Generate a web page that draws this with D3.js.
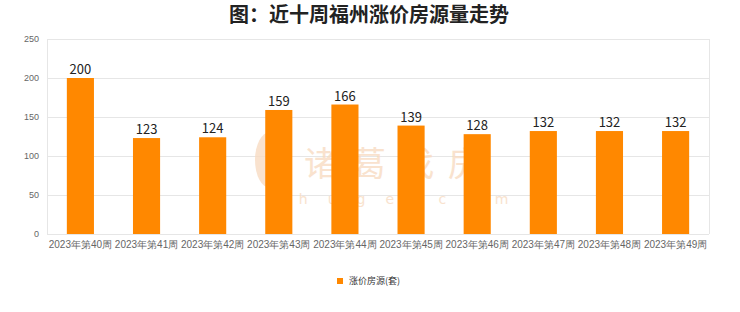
<!DOCTYPE html>
<html>
<head>
<meta charset="utf-8">
<script src="https://cdn.jsdelivr.net/npm/d3@7"></script>
<style>
	body { margin: 0; background: #fff; }
	svg { display: block; font-family: "Noto Sans CJK SC", "DejaVu Sans", sans-serif; }
	.grid line { stroke: #e6e6e6; }
	.axis text { fill: #666; }
	.axis path, .axis line { display: none; }
</style>
</head>
<body>
<svg id="chart" width="740" height="312"></svg>
<script>
var weeks = ["2023年第40周","2023年第41周","2023年第42周","2023年第43周","2023年第44周",
             "2023年第45周","2023年第46周","2023年第47周","2023年第48周","2023年第49周"];
var risingListings = [200, 123, 124, 159, 166, 139, 128, 132, 132, 132];
var yTicks = [0, 50, 100, 150, 200, 250];

var svg = d3.select('#chart');
var pad = { left: 47, right: 31, top: 39, bottom: 78 };
var width = 740, height = 312;

var x = d3.scaleBand().domain(weeks).range([pad.left, width - pad.right]).paddingInner(0.59).paddingOuter(0.3);
var y = d3.scaleLinear().domain([0, 250]).range([height - pad.bottom, pad.top]);

// title
svg.append('text')
	.attr('x', 369).attr('y', 22)
	.attr('text-anchor', 'middle')
	.attr('font-size', 20).attr('font-weight', 'bold')
	.attr('fill', '#222')
	.text('图：近十周福州涨价房源量走势');

// grid + frame
var grid = svg.append('g').attr('class', 'grid');
grid.selectAll('line').data(yTicks).enter().append('line')
	.attr('x1', pad.left).attr('x2', width - pad.right)
	.attr('y1', function(d){ return y(d) + 0.5; })
	.attr('y2', function(d){ return y(d) + 0.5; });
grid.append('line').attr('x1', pad.left + 0.5).attr('x2', pad.left + 0.5).attr('y1', y(250)).attr('y2', y(0));
grid.append('line').attr('x1', width - pad.right + 0.5).attr('x2', width - pad.right + 0.5).attr('y1', y(250)).attr('y2', y(0));

// watermark (faint, behind bars)
var wm = svg.append('g').attr('fill', '#f8dcc3').attr('opacity', 0.8);
wm.append('text').attr('x', 400).attr('y', 176).attr('text-anchor', 'middle')
	.attr('font-size', 34).attr('letter-spacing', 14).text('诸葛找房');
wm.append('text').attr('x', 400).attr('y', 204).attr('text-anchor', 'middle')
	.attr('font-size', 14).attr('letter-spacing', 20).attr('font-family', 'DejaVu Sans').text('zhuge.com');
wm.append('ellipse').attr('cx', 270).attr('cy', 160).attr('rx', 15).attr('ry', 28);

// axes
svg.append('g').attr('class', 'axis')
	.attr('transform', 'translate(' + (pad.left - 6) + ',0)')
	.call(d3.axisLeft(y).tickValues(yTicks).tickSize(0).tickPadding(2))
	.selectAll('text').attr('font-size', 9);
svg.append('g').attr('class', 'axis')
	.attr('transform', 'translate(0,' + (height - pad.bottom) + ')')
	.call(d3.axisBottom(x).tickSize(0).tickPadding(7))
	.selectAll('text').attr('font-size', 10).attr('fill', '#555');

// bars
svg.append('g').selectAll('rect').data(risingListings).enter().append('rect')
	.attr('x', function(d, i){ return x(weeks[i]); })
	.attr('y', function(d){ return y(d); })
	.attr('width', x.bandwidth())
	.attr('height', function(d){ return y(0) - y(d); })
	.attr('fill', '#ff8800');

// value labels
svg.append('g').selectAll('text').data(risingListings).enter().append('text')
	.attr('x', function(d, i){ return x(weeks[i]) + x.bandwidth() / 2; })
	.attr('y', function(d){ return y(d) - 4; })
	.attr('text-anchor', 'middle')
	.attr('font-size', 13).attr('fill', '#222')
	.text(function(d){ return d; });

// legend
var legend = svg.append('g').attr('transform', 'translate(337,278)');
legend.append('rect').attr('width', 6).attr('height', 6).attr('fill', '#ff8800');
legend.append('text').attr('x', 12).attr('y', 6).attr('font-size', 9).attr('fill', '#333').text('涨价房源(套)');
</script>
</body>
</html>
